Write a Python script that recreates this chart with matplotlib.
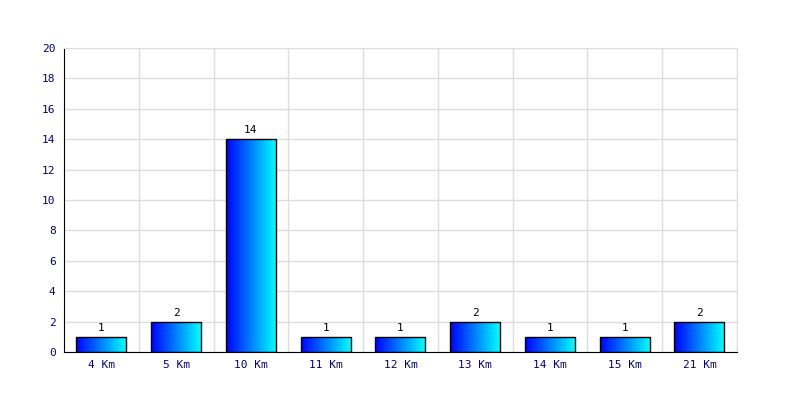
import numpy as np
import matplotlib.pyplot as plt

# distances et nombre de courses
categories = ['4 Km', '5 Km', '10 Km', '11 Km', '12 Km', '13 Km', '14 Km', '15 Km', '21 Km']
valeurs = [1, 2, 14, 1, 1, 2, 1, 1, 2]

plt.rcParams['font.family'] = 'DejaVu Sans Mono'

fig = plt.figure(figsize=(8, 4), dpi=100)
ax = fig.add_axes([0.08, 0.12, 0.841, 0.76])

# degrade bleu -> cyan
grad = np.zeros((1, 256, 3))
grad[0, :, 1] = np.linspace(0, 1, 256)
grad[0, :, 2] = 1.0

x = np.arange(len(categories))
largeur = 0.667
bars = ax.bar(x, valeurs, width=largeur, color='none', edgecolor='black', linewidth=1, zorder=3)
for b in bars:
    x0, y0 = b.get_x(), b.get_y()
    im = ax.imshow(grad, extent=[x0, x0 + b.get_width(), y0, y0 + b.get_height()],
                   aspect='auto', zorder=2, interpolation='bilinear')
    im.set_clip_path(b)
    ax.text(b.get_x() + b.get_width() / 2, b.get_height() + 0.25, str(int(b.get_height())),
            ha='center', va='bottom', fontsize=8, color='black')

ax.set_xlim(-0.5, len(categories) - 0.5)
ax.set_ylim(0, 20)
ax.set_yticks(range(0, 21, 2))
ax.set_xticks(x)
ax.set_xticklabels(categories)
ax.set_xticks(np.arange(0.5, len(categories), 1), minor=True)
ax.grid(True, which='major', axis='y', color='#dddddd', linewidth=1, zorder=0)
ax.grid(True, which='minor', axis='x', color='#dddddd', linewidth=1, zorder=0)
ax.set_axisbelow(True)
ax.tick_params(which='both', length=0, labelsize=8, colors='#000080', pad=6)
ax.tick_params(axis='y', pad=6)

for s in ['top', 'right']:
    ax.spines[s].set_color('#dddddd')
for s in ['left', 'bottom']:
    ax.spines[s].set_color('black')

fig.savefig('out.png', dpi=100)
